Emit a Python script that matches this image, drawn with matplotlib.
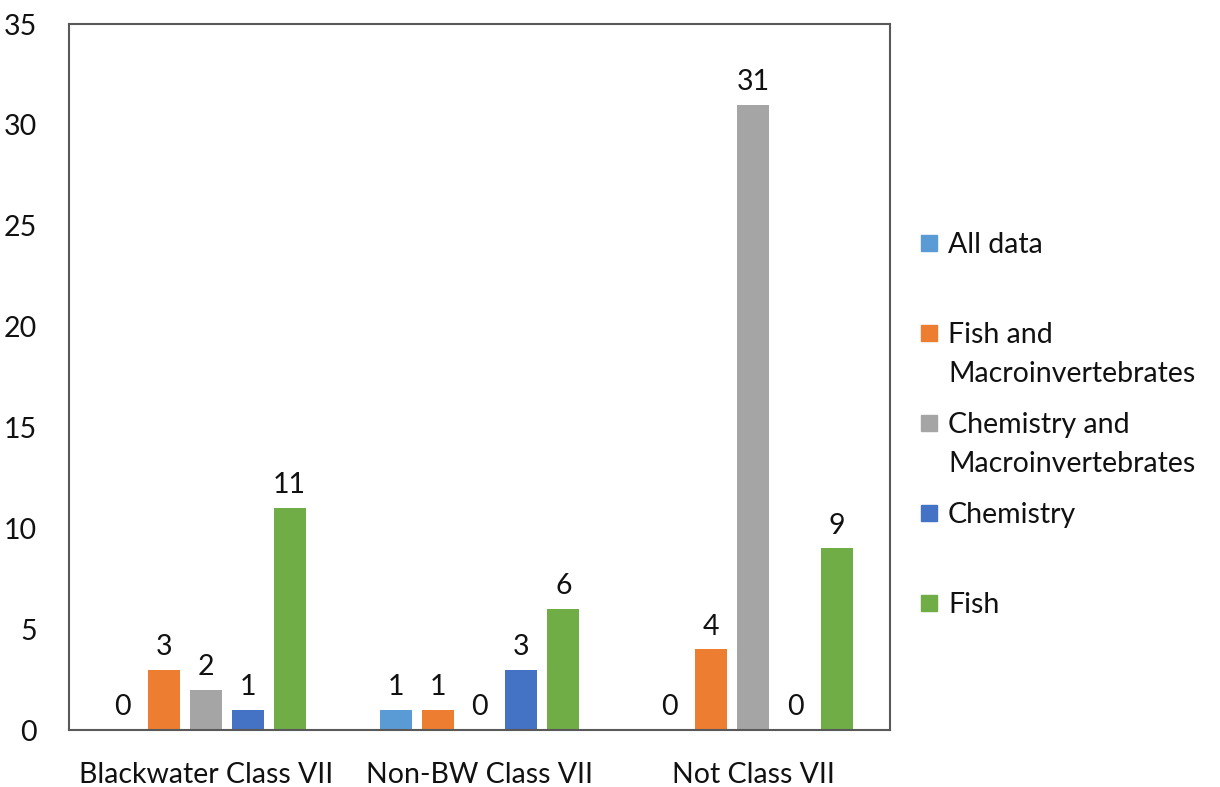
import matplotlib
matplotlib.use('Agg')
import matplotlib.pyplot as plt
import numpy as np
from matplotlib.patches import Rectangle

# Dados do gráfico
categorias = ['Blackwater Class VII', 'Non-BW Class VII', 'Not Class VII']
series = ['All data', 'Fish and\nMacroinvertebrates', 'Chemistry and\nMacroinvertebrates',
          'Chemistry', 'Fish']
all_data = [0, 1, 0]
fish_macro = [3, 1, 4]
chem_macro = [2, 0, 31]
chemistry = [1, 3, 0]
fish = [11, 6, 9]
cores = ['#5B9BD5', '#ED7D31', '#A5A5A5', '#4472C4', '#70AD47']

valores = [all_data, fish_macro, chem_macro, chemistry, fish]

plt.rcParams['font.family'] = ['Lato', 'DejaVu Sans']
fs = 20.5

fig = plt.figure(figsize=(12.2, 7.87), dpi=100)
ax = fig.add_axes([0.0566, 0.0724, 0.7295 - 0.0566, 0.9695 - 0.0724])

x = np.arange(len(categorias))
passo = 0.153
largura = 0.117
for i, (vals, cor) in enumerate(zip(valores, cores)):
    pos = x + (i - 2) * passo
    barras = ax.bar(pos, vals, width=largura, color=cor)
    ax.bar_label(barras, labels=[str(v) for v in vals], padding=7, fontsize=fs, color='#111111')

ax.set_xlim(-0.5, 2.5)
ax.set_ylim(0, 35)
ax.set_yticks(range(0, 36, 5))
ax.set_xticks(x)
ax.set_xticklabels(categorias)
ax.tick_params(axis='both', length=0, labelsize=fs, colors='#111111')
ax.tick_params(axis='y', pad=23)
ax.tick_params(axis='x', pad=23)
for s in ax.spines.values():
    s.set_color('#595959')
    s.set_linewidth(1.5)

# Legenda manual (marcador alinhado com a primeira linha)
W, H = 1220, 787
centros = [243, 333, 423, 513, 603]
for nome, cor, yc in zip(series, cores, centros):
    fig.patches.append(Rectangle((921 / W, 1 - (yc + 8) / H), 16 / W, 16 / H,
                                 transform=fig.transFigure, color=cor))
    for k, linha in enumerate(nome.split('\n')):
        base = yc + 10 + k * 39
        fig.text(948 / W, 1 - base / H, linha, fontsize=fs, va='baseline', ha='left',
                 color='#111111')

fig.savefig('out.png', dpi=100)
plt.close(fig)
